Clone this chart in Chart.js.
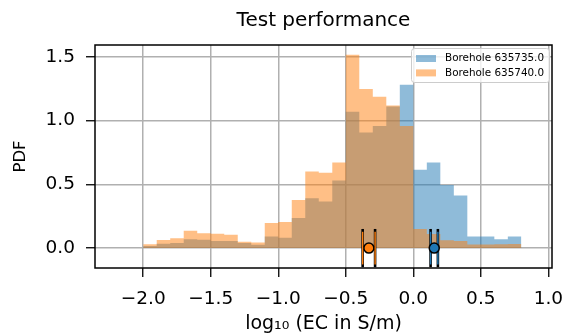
<!DOCTYPE html>
<html>
<head>
<meta charset="utf-8">
<script src="https://cdn.jsdelivr.net/npm/chart.js@4.4.1/dist/chart.umd.min.js"></script>
<style>
  html, body { margin: 0; padding: 0; background: #fff; }
</style>
</head>
<body>
<canvas id="chart" width="563" height="336"></canvas>
<script>
// histogram bin edges (width 0.1) on log10(EC)
const binEdges = [
  -2.0, -1.9, -1.8, -1.7, -1.6, -1.5, -1.4, -1.3, -1.2, -1.1,
  -1.0, -0.9, -0.8, -0.7, -0.6, -0.5, -0.4, -0.3, -0.2, -0.1,
   0.0,  0.1,  0.2,  0.3,  0.4,  0.5,  0.6,  0.7,  0.8
];
const pdf635735 = [
  0.016, 0.034, 0.039, 0.070, 0.065, 0.055, 0.055, 0.039, 0.026, 0.091,
  0.082, 0.235, 0.390, 0.365, 0.530, 1.069, 0.907, 0.957, 1.110, 1.280,
  0.615, 0.670, 0.495, 0.412, 0.091, 0.091, 0.070, 0.091
];
const pdf635740 = [
  0.031, 0.063, 0.078, 0.136, 0.117, 0.112, 0.104, 0.050, 0.044, 0.196,
  0.204, 0.378, 0.600, 0.590, 0.670, 1.515, 1.248, 1.186, 1.118, 0.957,
  0.149, 0.110, 0.062, 0.055, 0.028, 0.028, 0.030, 0.032
];
const seriesNames = ['Borehole 635735.0', 'Borehole 635740.0'];
const seriesColors = ['31, 119, 180', '255, 127, 14'];

// test point + error bar for each borehole
const markerX = [0.155, -0.329];
const markerHalfWidth = [0.027, 0.046];
const capHalfHeight = 0.15;

const xTicks = [-2.0, -1.5, -1.0, -0.5, 0.0, 0.5, 1.0];
const yTicks = [0.0, 0.5, 1.0, 1.5];

const FONT = 'DejaVu Sans';

function fmt(v) {
  return v.toFixed(1).replace('-', '\u2212');
}

// vertical caps of the error bars, black outline with coloured core
function capDatasets(i) {
  const out = [];
  const col = 'rgb(' + seriesColors[i] + ')';
  [markerX[i] - markerHalfWidth[i], markerX[i] + markerHalfWidth[i]].forEach(cx => {
    out.push({
      type: 'line', order: 3,
      data: [{x: cx, y: -capHalfHeight}, {x: cx, y: capHalfHeight}],
      borderColor: '#000', borderWidth: 2.6, pointRadius: 0
    });
    out.push({
      type: 'line', order: 2,
      data: [{x: cx, y: -capHalfHeight + 0.022}, {x: cx, y: capHalfHeight - 0.022}],
      borderColor: col, borderWidth: 1.4, pointRadius: 0
    });
  });
  out.push({
    type: 'line', order: 2,
    data: [{x: markerX[i] - markerHalfWidth[i], y: 0}, {x: markerX[i] + markerHalfWidth[i], y: 0}],
    borderColor: col, borderWidth: 1.5, pointRadius: 0
  });
  out.push({
    type: 'scatter', order: 0,
    data: [{x: markerX[i], y: 0}],
    backgroundColor: col, borderColor: '#000',
    pointRadius: 5, pointBorderWidth: 1.5, pointHoverRadius: 5
  });
  return out;
}

// step-filled histograms, orange drawn over blue
// stepped 'before' holds each point's value until the next edge
const histSets = [pdf635735, pdf635740].map((vals, i) => ({
  type: 'line',
  label: seriesNames[i],
  order: 5 - i,
  stepped: 'before',
  data: binEdges.map((e, k) => ({x: e, y: vals[Math.min(k, vals.length - 1)]})),
  backgroundColor: 'rgba(' + seriesColors[i] + ', 0.5)',
  borderWidth: 0,
  borderColor: 'rgba(0,0,0,0)',
  pointRadius: 0,
  fill: 'origin'
}));

const frameAndLegend = {
  id: 'frameAndLegend',
  afterDatasetsDraw(chart) {
    const ctx = chart.ctx;
    const a = chart.chartArea;
    ctx.save();
    // axes frame
    ctx.strokeStyle = '#000';
    ctx.lineWidth = 1.5;
    ctx.strokeRect(a.left, a.top, a.right - a.left, a.bottom - a.top);

    // legend
    const bx = a.right - 141, by = a.top + 3, bw = 138, bh = 34;
    ctx.fillStyle = 'rgba(255,255,255,0.8)';
    ctx.strokeStyle = '#cccccc';
    ctx.lineWidth = 1;
    ctx.beginPath();
    ctx.roundRect(bx + 0.5, by + 0.5, bw, bh, 3);
    ctx.fill();
    ctx.stroke();
    ctx.font = '10.4px "' + FONT + '"';
    ctx.textBaseline = 'middle';
    ctx.textAlign = 'left';
    seriesNames.forEach((name, i) => {
      const cy = by + 10.5 + i * 14.4;
      ctx.fillStyle = 'rgba(' + seriesColors[i] + ', 0.5)';
      ctx.fillRect(bx + 5, cy - 3.5, 20, 7);
      ctx.fillStyle = '#000';
      ctx.fillText(name, bx + 34, cy);
    });

    // title centred over the axes
    ctx.font = '20px "' + FONT + '"';
    ctx.textAlign = 'center';
    ctx.fillText('Test performance', (a.left + a.right) / 2, 21);
    ctx.restore();
  }
};

new Chart(document.getElementById('chart'), {
  type: 'line',
  data: {
    datasets: histSets.concat(capDatasets(0), capDatasets(1))
  },
  options: {
    responsive: false,
    animation: false,
    events: [],
    layout: { padding: { top: 45, right: 11, left: 0, bottom: 0 } },
    plugins: {
      legend: { display: false },
      title: { display: false },
      tooltip: { enabled: false }
    },
    scales: {
      x: {
        type: 'linear',
        min: -2.357,
        max: 1.027,
        afterBuildTicks: s => { s.ticks = xTicks.map(v => ({value: v})); },
        afterFit: s => { s.height = 68; s.paddingLeft = 0; s.paddingRight = 0; },
        grid: { color: '#b0b0b0', lineWidth: 1.5, tickLength: 9, tickColor: '#000', tickWidth: 1.3 },
        border: { display: false },
        ticks: { padding: 11, color: '#000', font: { family: FONT, size: 18.5 }, callback: v => fmt(v), maxRotation: 0, autoSkip: false },
        title: { display: true, text: 'log\u2081\u2080 (EC in S/m)', color: '#000', font: { family: FONT, size: 19 }, padding: { top: 0, bottom: 1 } }
      },
      y: {
        type: 'linear',
        min: -0.156,
        max: 1.592,
        afterBuildTicks: s => { s.ticks = yTicks.map(v => ({value: v})); },
        afterFit: s => { s.width = 95; s.paddingTop = 0; s.paddingBottom = 0; },
        grid: { color: '#b0b0b0', lineWidth: 1.5, tickLength: 9, tickColor: '#000', tickWidth: 1.3 },
        border: { display: false },
        ticks: { padding: 11, color: '#000', font: { family: FONT, size: 18.5 }, callback: v => fmt(v) },
        title: { display: true, text: 'PDF', color: '#000', font: { family: FONT, size: 16.5 }, padding: { top: 11, bottom: 0 } }
      }
    }
  },
  plugins: [frameAndLegend]
});
</script>
</body>
</html>
